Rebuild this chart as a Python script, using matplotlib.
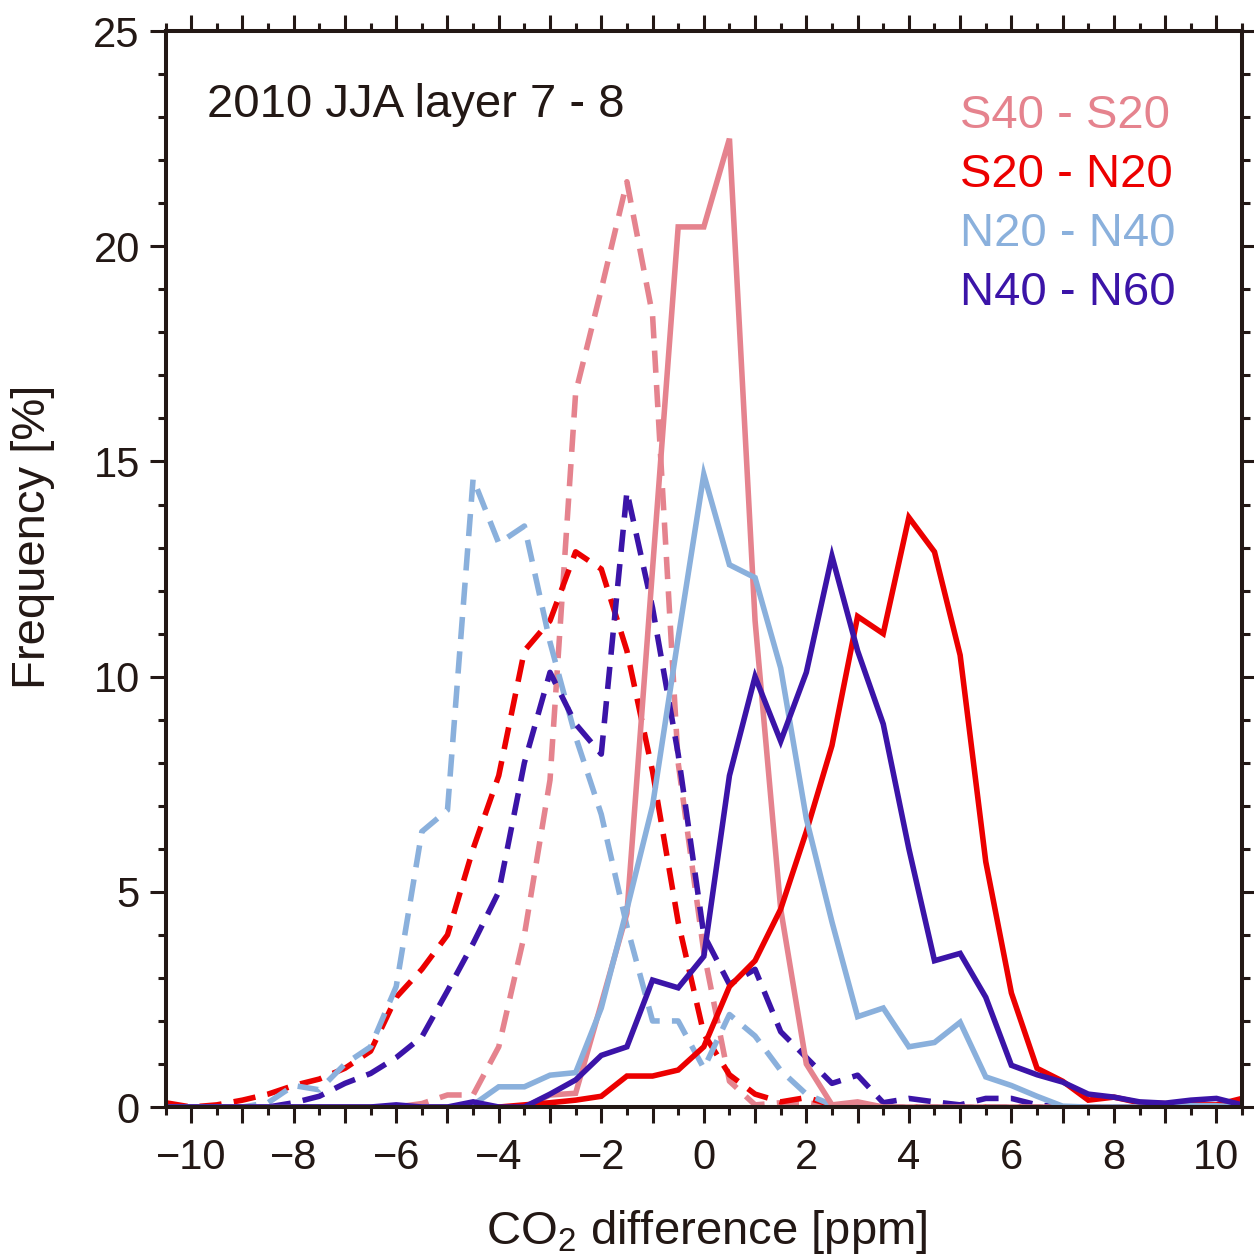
import numpy as np
import matplotlib
matplotlib.use('Agg')
import matplotlib.pyplot as plt
from matplotlib.ticker import MultipleLocator, FuncFormatter

plt.rcParams['font.family'] = ['Liberation Sans', 'DejaVu Sans']
plt.rcParams['mathtext.default'] = 'regular'

# bin centres of the CO2 difference histogram [ppm]
x = np.arange(-10.5, 10.51, 0.5)

# solid lines
s40_s20 = [0, 0, 0, 0, 0, 0, 0, 0, 0, 0, 0, 0, 0, 0, 0, 0.28, 0.32, 2.4, 4.5, 12.5,
           20.45, 20.45, 22.5, 11.3, 4.6, 1.0, 0.05, 0.12, 0, 0, 0, 0, 0, 0, 0, 0,
           0, 0, 0, 0, 0, 0, 0]
s20_n20 = [0, 0, 0, 0, 0, 0, 0, 0, 0, 0, 0, 0, 0, 0, 0.05, 0.1, 0.16, 0.25, 0.72, 0.72,
           0.86, 1.4, 2.8, 3.4, 4.6, 6.4, 8.4, 11.4, 11.0, 13.7, 12.9, 10.5, 5.7, 2.65,
           0.9, 0.6, 0.16, 0.23, 0.1, 0.08, 0.05, 0.05, 0.2]
n20_n40 = [0, 0, 0, 0, 0, 0, 0, 0, 0, 0, 0, 0, 0.05, 0.47, 0.47, 0.74, 0.8, 2.3, 4.6, 7.0,
           10.9, 14.7, 12.6, 12.3, 10.2, 6.7, 4.3, 2.1, 2.3, 1.4, 1.5, 1.97, 0.7, 0.5,
           0.25, 0.02, 0, 0, 0, 0, 0.03, 0.03, 0]
n40_n60 = [0, 0, 0, 0, 0, 0, 0, 0, 0, 0.05, 0, 0, 0.12, 0, 0, 0.3, 0.63, 1.2, 1.4, 2.95,
           2.77, 3.5, 7.7, 10.0, 8.5, 10.1, 12.8, 10.6, 8.9, 6.0, 3.4, 3.57, 2.55, 0.97,
           0.75, 0.58, 0.3, 0.23, 0.12, 0.09, 0.16, 0.2, 0.05]

# dashed lines
s40_s20_d = [0, 0, 0, 0, 0, 0, 0, 0, 0, 0, 0.08, 0.28, 0.28, 1.4, 4.0, 7.6, 16.6, 19.0, 21.5,
             18.4, 8.0, 3.6, 0.6, 0.05, 0.1, 0.1, 0.03, 0, 0, 0, 0, 0, 0, 0, 0, 0, 0,
             0, 0, 0, 0, 0, 0]
s20_n20_d = [0.1, 0.0, 0.05, 0.16, 0.3, 0.5, 0.65, 0.9, 1.3, 2.55, 3.2, 4.0, 6.0, 7.7, 10.6,
             11.3, 12.9, 12.5, 10.6, 7.8, 4.3, 1.7, 0.75, 0.3, 0.12, 0.22, 0.05, 0, 0, 0,
             0, 0, 0, 0, 0, 0, 0, 0, 0, 0, 0, 0, 0]
n20_n40_d = [0, 0, 0, 0, 0.1, 0.5, 0.4, 1.0, 1.4, 2.8, 6.4, 6.9, 14.6, 13.1, 13.5, 10.8,
             8.6, 6.8, 4.2, 2.0, 2.0, 0.9, 2.15, 1.65, 0.85, 0.3, 0.05, 0, 0, 0, 0, 0, 0,
             0, 0, 0, 0, 0, 0, 0, 0, 0, 0]
n40_n60_d = [0, 0, 0, 0, 0, 0.1, 0.25, 0.55, 0.78, 1.15, 1.63, 2.7, 3.8, 5.0, 8.0, 10.1,
             8.9, 8.2, 14.3, 11.6, 8.2, 4.0, 2.85, 3.2, 1.75, 1.15, 0.55, 0.74, 0.1, 0.2,
             0.12, 0.05, 0.2, 0.2, 0.05, 0, 0, 0, 0, 0, 0, 0, 0]

labels = ['S40 - S20', 'S20 - N20', 'N20 - N40', 'N40 - N60']
colors = ['#E5838E', '#EC0000', '#8AB0DC', '#3B14A8']
solid = [s40_s20, s20_n20, n20_n40, n40_n60]
dashed = [s40_s20_d, s20_n20_d, n20_n40_d, n40_n60_d]

ink = '#231815'

fig = plt.figure(figsize=(12.54, 12.54), dpi=100)
ax = fig.add_axes([0.132, 0.1172, 0.8585, 0.858])

for y, c in zip(dashed, colors):
    ax.plot(x, y, color=c, lw=4, dashes=(4, 2.2), dash_capstyle='butt')
for y, c in zip(solid, colors):
    ax.plot(x, y, color=c, lw=4, solid_joinstyle='miter')

ax.set_xlim(-10.5, 10.5)
ax.set_ylim(0, 25)

ax.xaxis.set_major_locator(MultipleLocator(1))
ax.xaxis.set_minor_locator(MultipleLocator(0.5))
ax.xaxis.set_major_formatter(FuncFormatter(
    lambda v, p: ('\u2212%d' % abs(v) if v < 0 else '%d' % v) if round(v) % 2 == 0 else ''))
ax.yaxis.set_major_locator(MultipleLocator(5))
ax.yaxis.set_minor_locator(MultipleLocator(1))

for s in ax.spines.values():
    s.set_linewidth(2.9)
    s.set_color(ink)
ax.tick_params(which='both', direction='out', top=True, right=True, color=ink, width=2.2)
ax.tick_params(which='major', length=11.5)
ax.tick_params(which='minor', length=5.5)
ax.tick_params(axis='x', which='major', labelsize=30, pad=11, labelcolor=ink)
ax.tick_params(axis='y', which='major', labelsize=30, pad=7, labelcolor=ink)

ax.set_xlabel('CO$_2$ difference [ppm]', fontsize=34, color=ink)
ax.set_ylabel('Frequency [%]', fontsize=34, color=ink)
ax.xaxis.set_label_coords(0.503, -0.094)
ax.yaxis.set_label_coords(-0.103, 0.53)

ax.text(0.0386, (1107 - 117) / 1076, '2010 JJA layer 7 - 8', transform=ax.transAxes,
        fontsize=34, color=ink, va='baseline', ha='left')
for i, (lab, c) in enumerate(zip(labels, colors)):
    ax.text(0.738, (1107 - (128 + 59 * i)) / 1076, lab, transform=ax.transAxes,
            fontsize=34, color=c, va='baseline', ha='left')

fig.savefig('out.png', dpi=100)
